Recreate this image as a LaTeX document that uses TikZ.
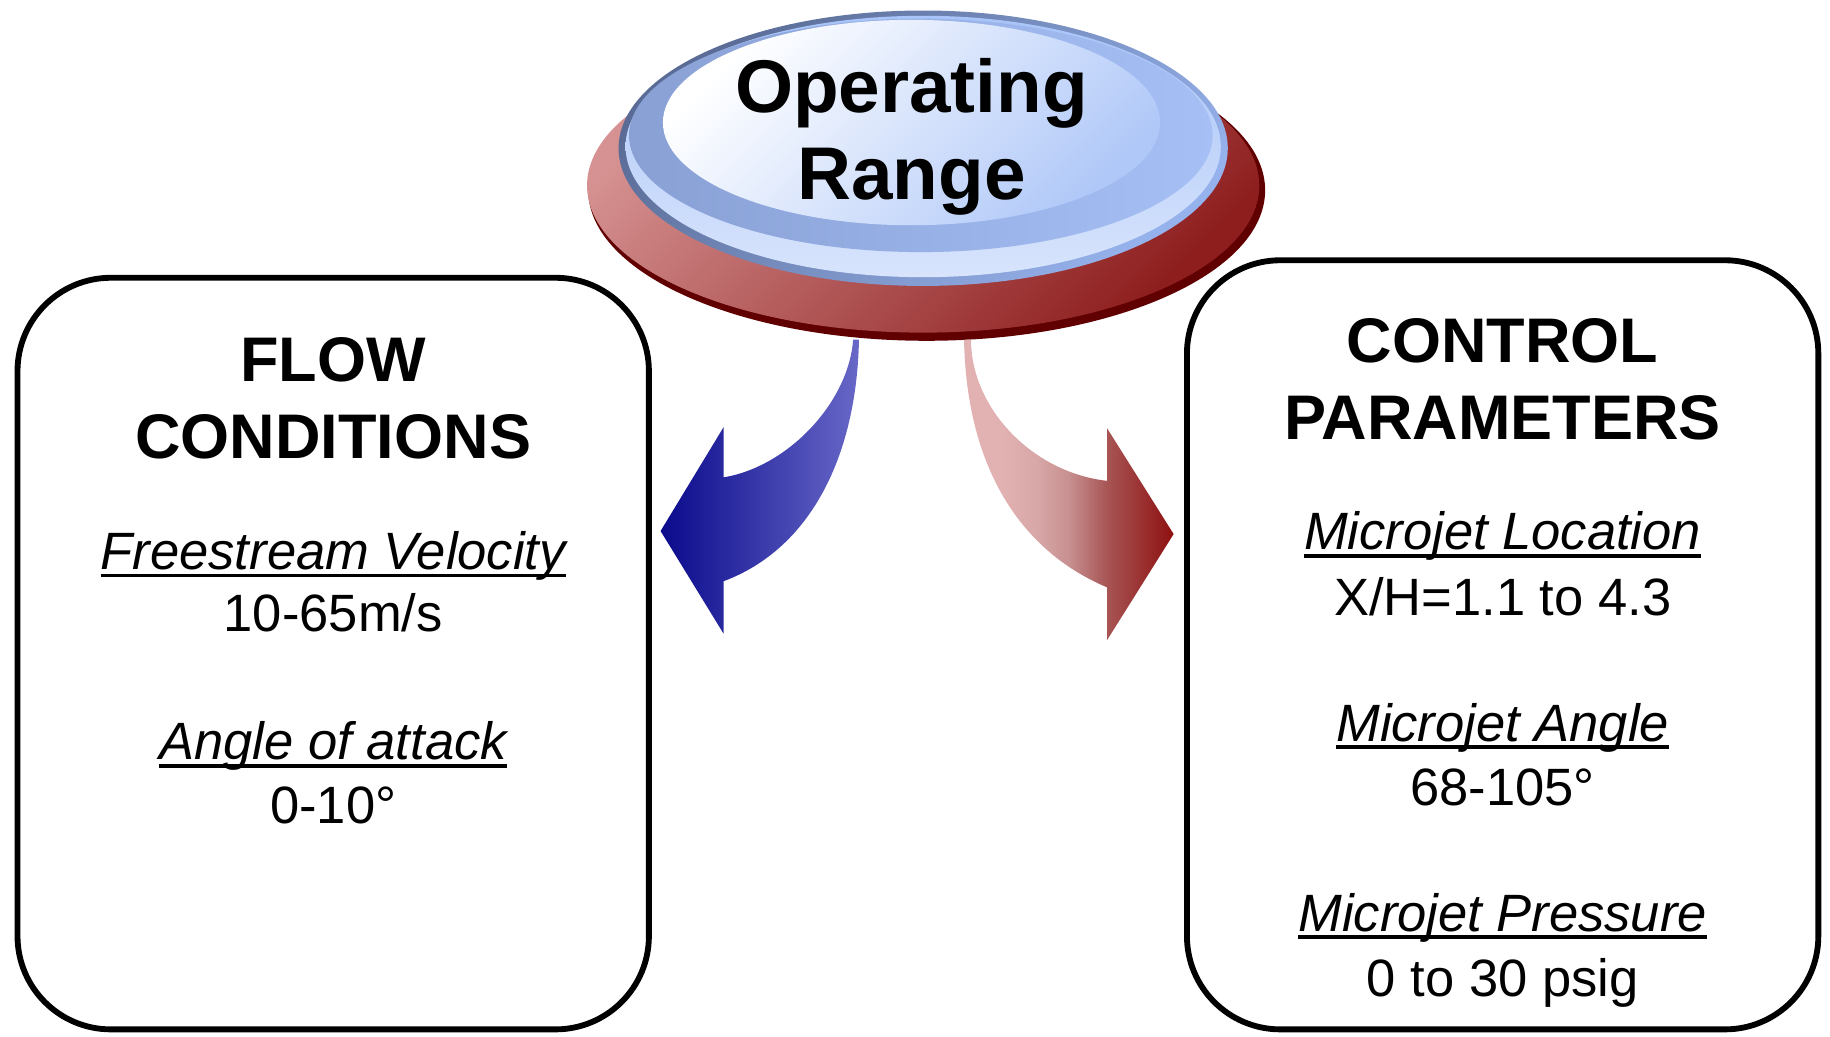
\documentclass[tikz,border=0pt]{standalone}
\usepackage{fontspec}
\setmainfont{Liberation Sans}

% colours
\definecolor{discLight}{RGB}{214,146,146}
\definecolor{discDark}{RGB}{142,30,30}
\definecolor{discRim}{RGB}{96,0,0}
\definecolor{capRimDark}{RGB}{90,108,150}
\definecolor{capRimLight}{RGB}{150,178,236}
\definecolor{capEdgeA}{RGB}{168,196,248}
\definecolor{capEdgeB}{RGB}{216,228,252}
\definecolor{capRingL}{RGB}{136,160,212}
\definecolor{capRingR}{RGB}{166,192,246}
\definecolor{capTopR}{RGB}{176,200,248}
\definecolor{blueTip}{RGB}{10,10,140}
\definecolor{blueTail}{RGB}{104,104,200}
\definecolor{redTail}{RGB}{226,178,178}
\definecolor{redSoft}{RGB}{216,168,168}
\definecolor{redMid}{RGB}{200,144,144}
\definecolor{redDeep}{RGB}{168,85,85}
\definecolor{redHead}{RGB}{142,16,16}

\pgfdeclarehorizontalshading{redfade}{100bp}{color(0bp)=(redTail); color(34bp)=(redTail); color(42bp)=(redSoft); color(50bp)=(redMid); color(59bp)=(redDeep); color(75bp)=(redHead); color(100bp)=(redHead)}

% underlined label: rule a few points under the baseline
\newcommand\ulabel[1]{\setbox0=\hbox{#1}\rlap{\vrule height -3.5pt depth 6.8pt width \wd0}\box0}

\tikzset{
  panel/.style={draw=black, line width=5pt, fill=white, rounded corners=80pt},
  head/.style={font=\fontsize{54}{60}\selectfont\bfseries, anchor=base, inner sep=0pt},
  title/.style={font=\fontsize{64}{70}\selectfont\bfseries, anchor=base, inner sep=0pt},
  itemlbl/.style={font=\fontsize{45}{50}\selectfont\itshape, anchor=base, inner sep=0pt},
  itemval/.style={font=\fontsize{45}{50}\selectfont, anchor=base, inner sep=0pt},
}

\begin{document}
\begin{tikzpicture}[x=1pt, y=-1pt]
\useasboundingbox (0,0) rectangle (1568,888);

% side panels
\node[panel, minimum width=541pt, minimum height=644pt] (flow) at (285.5,560) {};
\node[panel, minimum width=541pt, minimum height=659pt] (ctrl) at (1287.5,552.5) {};

% red base disc
\fill[discRim] (794,163) ellipse [x radius=290pt, y radius=129pt];
\shade[top color=discLight, bottom color=discDark, shading angle=45]
  (791,159) ellipse [x radius=288pt, y radius=126pt];

% blue cap: rim, light edge band, ring and top face
\shade[top color=capRimDark, bottom color=capRimLight, shading angle=45]
  (791,127) ellipse [x radius=261pt, y radius=118pt];
\shade[top color=capEdgeA, bottom color=capEdgeB]
  (791,125.5) ellipse [x radius=255pt, y radius=112pt];
\shade[left color=capRingL, right color=capRingR]
  (789,116) ellipse [x radius=250pt, y radius=100pt];
\shade[top color=white, bottom color=capTopR, shading angle=45]
  (781,105) ellipse [x radius=213pt, y radius=88pt];

\node[title] (op1) at (781,96) {Operating};
\node[title] (op2) at (781,171) {Range};

% curved arrow to the left panel
\shade[left color=blueTip, right color=blueTail]
  (731,291) .. controls (727,345) and (675,400) .. (620,409)
  -- (620,366) -- (566,455) -- (620,543) -- (620,498)
  .. controls (695,470) and (734,390) .. (736,291) -- cycle;

% curved arrow to the right panel
\shade[shading=redfade]
  (832,291) .. controls (832,350) and (885,405) .. (948.6,412)
  -- (948.6,367) -- (1005.6,457.6) -- (948.6,548.4) -- (948.6,503.3)
  .. controls (870,470) and (828,395) .. (826,291) -- cycle;

% flow conditions
\node[head] (f1) at (285.5,327) {FLOW};
\node[head] (f2) at (285.5,392.5) {CONDITIONS};
\node[itemlbl] (f3) at (285.5,488) {\ulabel{Freestream Velocity}};
\node[itemval] (f4) at (285.5,541) {10-65m/s};
\node[itemlbl] (f5) at (285.5,651) {\ulabel{Angle of attack}};
\node[itemval] (f6) at (285.5,706) {0-10°};

% control parameters
\node[head] (c1) at (1287.5,310.5) {CONTROL};
\node[head] (c2) at (1287.5,377) {PARAMETERS};
\node[itemlbl] (c3) at (1287.5,471) {\ulabel{Microjet Location}};
\node[itemval] (c4) at (1287.5,527) {X/H=1.1 to 4.3};
\node[itemlbl] (c5) at (1287.5,635) {\ulabel{Microjet Angle}};
\node[itemval] (c6) at (1287.5,690.5) {68-105°};
\node[itemlbl] (c7) at (1287.5,798) {\ulabel{Microjet Pressure}};
\node[itemval] (c8) at (1287.5,854) {0 to 30 psig};
\end{tikzpicture}
\end{document}
